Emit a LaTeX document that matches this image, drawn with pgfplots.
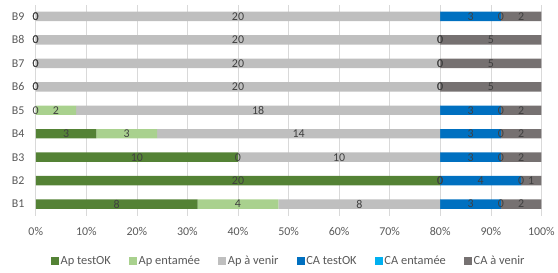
\documentclass[border=0pt]{standalone}
\usepackage{pgfplots}
\usepackage{pgfplotstable}
\pgfplotsset{compat=1.18}
\usepackage{fontspec}
\setmainfont{Carlito}
\definecolor{apok}{HTML}{548235}
\definecolor{apent}{HTML}{A9D18E}
\definecolor{apav}{HTML}{BFBFBF}
\definecolor{caok}{HTML}{0070C0}
\definecolor{caent}{HTML}{00B0F0}
\definecolor{caav}{HTML}{767171}
\definecolor{txt}{HTML}{595959}
\definecolor{lbl}{HTML}{404040}
\pgfplotstableread{
c apok apent apav caok caent caav
1 8  4 8  3 0 2
2 20 0 0  4 0 1
3 10 0 10 3 0 2
4 3  3 14 3 0 2
5 0  2 18 3 0 2
6 0  0 20 0 0 5
7 0  0 20 0 0 5
8 0  0 20 0 0 5
9 0  0 20 3 0 2
}\data
\pgfplotsset{common/.style={
  scale only axis, width=509pt, height=212.6pt,
  xmin=0, xmax=25, ymin=0.5, ymax=9.5}}
\newcommand\seg[2]{\addplot[fill=#2, draw=none] table[x=#1, y=c]{\data};}
\newcommand\lab[2]{\addplot[draw=none, mark=none, nodes near coords, point meta=explicit]
  table[x expr={#1}, y=c, meta=#2]{\data};}
\begin{document}
\begin{tikzpicture}
\begin{axis}[
  common,
  xbar stacked, bar width=9.5pt,
  xtick={0,2.5,...,25},
  xticklabels={0\%,10\%,20\%,30\%,40\%,50\%,60\%,70\%,80\%,90\%,100\%},
  ytick={1,...,9},
  yticklabels={B1,B2,B3,B4,B5,B6,B7,B8,B9},
  xmajorgrids, major grid style={draw=black!15, line width=0.6pt},
  axis line style={draw=none}, major tick length=0pt,
  tick label style={font=\fontsize{12}{14}\selectfont, text=txt},
  xticklabel style={yshift=-8.5pt},
  yticklabel style={xshift=-8pt},
  legend style={at={(0.5,-45.7pt)}, anchor=center, draw=none, legend columns=-1,
    font=\fontsize{12.5}{14}\selectfont, text=txt,
    nodes={inner sep=1.5pt},
    /tikz/every even column/.append style={column sep=17pt}},
  legend image code/.code={\fill[#1] (0pt,-4pt) rectangle (8pt,4pt);},
]
\seg{apok}{apok}
\seg{apent}{apent}
\seg{apav}{apav}
\seg{caok}{caok}
\seg{caent}{caent}
\seg{caav}{caav}
\legend{Ap testOK, Ap entamée, Ap à venir, CA testOK, CA entamée, CA à venir}
\end{axis}
\begin{axis}[
  common, hide axis, clip=false,
  /pgf/number format/assume math mode=true,
  nodes near coords style={font=\fontsize{12}{14}\selectfont, text=lbl, anchor=center, inner sep=0pt},
]
\lab{\thisrow{apok}/2}{apok}
\lab{\thisrow{apok}+\thisrow{apent}/2}{apent}
\lab{\thisrow{apok}+\thisrow{apent}+\thisrow{apav}/2}{apav}
\lab{\thisrow{apok}+\thisrow{apent}+\thisrow{apav}+\thisrow{caok}/2}{caok}
\lab{\thisrow{apok}+\thisrow{apent}+\thisrow{apav}+\thisrow{caok}+\thisrow{caent}/2}{caent}
\lab{\thisrow{apok}+\thisrow{apent}+\thisrow{apav}+\thisrow{caok}+\thisrow{caent}+\thisrow{caav}/2}{caav}
\end{axis}
\path[use as bounding box] (-36pt,-56.7pt) rectangle (522pt,217.3pt);
\end{tikzpicture}
\end{document}
